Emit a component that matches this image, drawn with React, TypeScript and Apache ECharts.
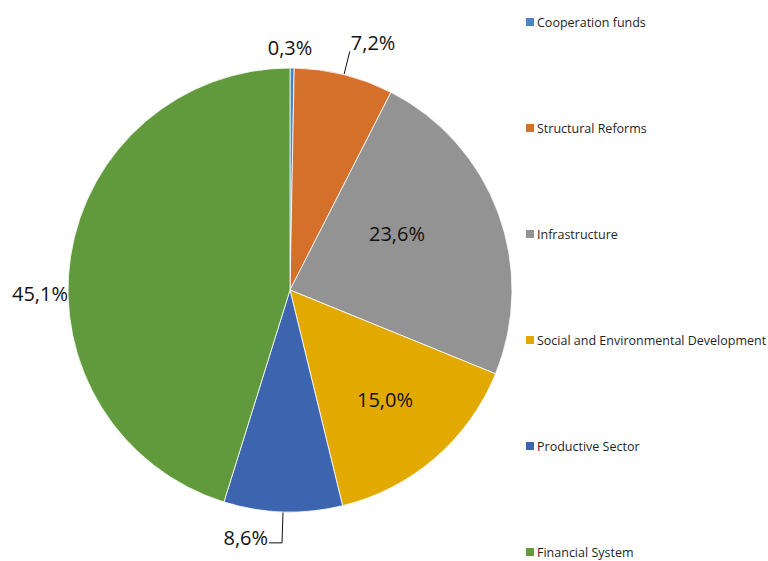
import React, { useEffect, useRef } from "react";
import * as echarts from "echarts";

const categories = [
  "Cooperation funds",
  "Structural Reforms",
  "Infrastructure",
  "Social and Environmental Development",
  "Productive Sector",
  "Financial System",
];
const values = [0.3, 7.2, 23.6, 15.0, 8.6, 45.1];
const colors = ["#4a84c4", "#d5702b", "#939393", "#e2a900", "#3d64ae", "#609a3d"];

const FONT = "'Open Sans', 'Noto Sans', sans-serif";

const fmt = (v: number) => v.toFixed(1).replace(".", ",") + "%";

export default function App() {
  const ref = useRef<HTMLDivElement>(null);
  useEffect(() => {
    if (!ref.current) return;
    const chart = echarts.init(ref.current, null, { renderer: "svg" });
    const labelCfg: any[] = [
      { position: "outside", line: false, rich: "n" },
      { position: "outside", line: true, length: 24, length2: 0, rich: "up9" },
      { position: "inside", line: false, rich: "n" },
      { position: "inside", line: false, rich: "n" },
      { position: "outside", line: true, length: 31, length2: 13, rich: "up5" },
      { position: "outside", line: false, rich: "n" },
    ];
    const data = categories.map((name, i) => ({
      name,
      value: values[i],
      itemStyle: { color: colors[i] },
      label: {
        position: labelCfg[i].position,
        formatter: () => `{${labelCfg[i].rich}|${fmt(values[i])}}`,
      },
      labelLine: {
        show: labelCfg[i].line,
        length: labelCfg[i].length ?? 10,
        length2: labelCfg[i].length2 ?? 0,
      },
    }));
    const cx = 290;
    const cy = 290;
    const r = 222;
    const richBase = { fontSize: 20, color: "#111", fontFamily: FONT };
    chart.setOption({
      animation: false,
      textStyle: { fontFamily: FONT },
      legend: {
        orient: "vertical",
        left: 526,
        top: 15,
        padding: 0,
        itemWidth: 8,
        itemHeight: 8,
        itemGap: 92,
        icon: "rect",
        selectedMode: false,
        itemStyle: { borderWidth: 0 },
        textStyle: { fontSize: 12.5, color: "#1f1f1f", fontFamily: FONT, lineHeight: 14, padding: [0, 0, 0, -2] },
        data: categories,
      },
      series: [
        {
          type: "pie",
          center: [cx, cy],
          radius: r,
          startAngle: 90,
          clockwise: true,
          avoidLabelOverlap: false,
          itemStyle: { borderColor: "#ffffff", borderWidth: 0.8 },
          label: {
            show: true,
            fontSize: 20,
            color: "#111",
            fontFamily: FONT,
            distanceToLabelLine: 1,
            rich: {
              n: { ...richBase },
              up9: { ...richBase, padding: [0, 0, 18, 0] },
              up5: { ...richBase, padding: [0, 0, 10, 0] },
            },
          },
          labelLine: { lineStyle: { color: "#111", width: 1 }, smooth: false },
          labelLayout: (p: any) => {
            switch (p.dataIndex) {
              case 0:
                return { x: cx, y: cy - r - 21, align: "center", verticalAlign: "middle" };
              case 2:
                return { x: 397, y: 233, align: "center", verticalAlign: "middle" };
              case 3:
                return { x: 385, y: 399, align: "center", verticalAlign: "middle" };
              case 5:
                return { x: 68, y: 293, align: "right", verticalAlign: "middle" };
              default:
                return {};
            }
          },
          data,
        },
      ],
    });
    return () => chart.dispose();
  }, []);
  return (
    <div
      ref={ref}
      style={{ position: "absolute", left: 0, top: 0, width: 768, height: 561, background: "#fff" }}
    />
  );
}
